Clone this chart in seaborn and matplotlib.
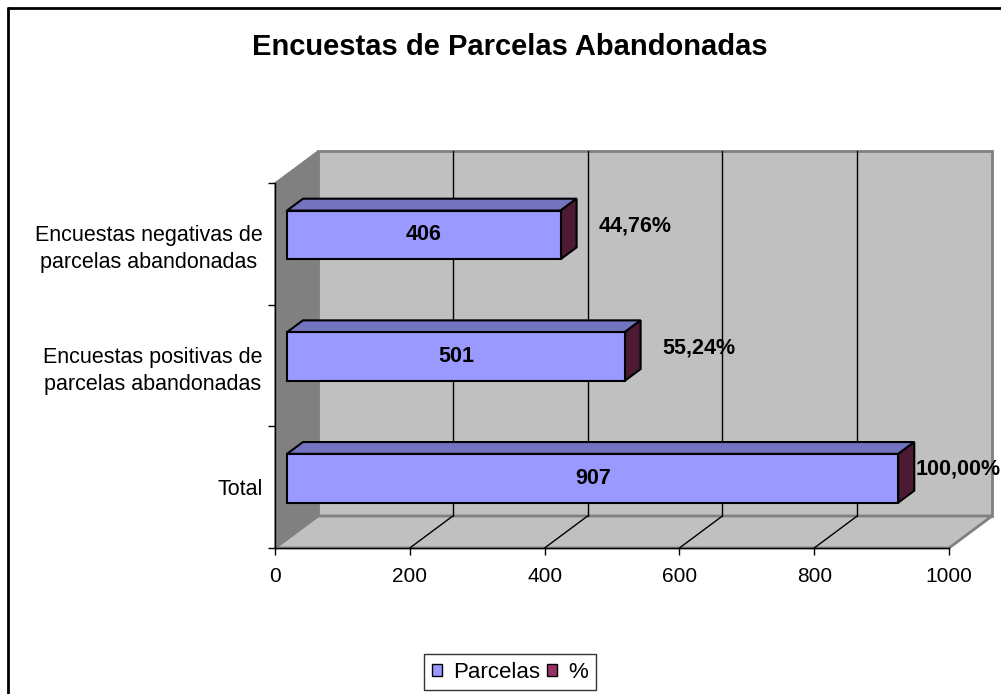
import matplotlib
matplotlib.use("Agg")
import matplotlib.pyplot as plt
import seaborn as sns
import pandas as pd
from matplotlib.patches import Polygon, Patch
from matplotlib.lines import Line2D
from matplotlib.transforms import IdentityTransform, ScaledTranslation

# Data
categorias = ["Encuestas negativas de\nparcelas abandonadas",
              "Encuestas positivas de\nparcelas abandonadas",
              "Total"]
parcelas = [406, 501, 907]
porcentajes = ["44,76%", "55,24%", "100,00%"]
ticks_x = [0, 200, 400, 600, 800, 1000]

W, H, DPI = 1001, 694, 100
DX, DY = 43, 32          # depth of the 3D box, in pixels
D_FRONT, D_BACK = 0.28, 0.65  # depth of the bars inside the box

sns.set_theme(style="white")
plt.rcParams["font.family"] = ["Liberation Sans", "DejaVu Sans"]
plt.rcParams["text.color"] = "black"
plt.rcParams["xtick.color"] = "black"
plt.rcParams["ytick.color"] = "black"
plt.rcParams["axes.labelcolor"] = "black"

fig = plt.figure(figsize=(W / DPI, H / DPI), dpi=DPI)
ax = fig.add_axes([275 / W, 1 - 548 / H, (949 - 275) / W, (548 - 183) / H])
ax.patch.set_visible(False)

df = pd.DataFrame({"categoria": categorias, "parcelas": parcelas})
sns.barplot(data=df, x="parcelas", y="categoria", order=categorias,
            color="#9999FF", saturation=1, width=0.4,
            edgecolor="black", linewidth=1.5, ax=ax, zorder=3)

ax.set_xlim(0, 1000)
ax.set_ylim(2.5, -0.5)


def P(x, y, d):
    # display coords of a data point pushed back by depth d (0..1)
    px, py = ax.transData.transform((x, y))
    return (px + DX * d, py + DY * d)


def poly(pts, **kw):
    p = Polygon(pts, closed=True, transform=IdentityTransform(),
                clip_on=False, **kw)
    ax.add_patch(p)
    return p


def line(p0, p1, **kw):
    ln = Line2D([p0[0], p1[0]], [p0[1], p1[1]], transform=IdentityTransform(),
                clip_on=False, **kw)
    ax.add_line(ln)


# walls and floor
y_top, y_bot = -0.5, 2.5
poly([P(0, y_top, 1), P(1000, y_top, 1), P(1000, y_bot, 1), P(0, y_bot, 1)],
     facecolor="#C0C0C0", edgecolor="#808080", lw=2, zorder=0.1)
poly([P(0, y_top, 0), P(0, y_top, 1), P(0, y_bot, 1), P(0, y_bot, 0)],
     facecolor="#808080", edgecolor="#808080", lw=1, zorder=0.2)
poly([P(0, y_bot, 0), P(1000, y_bot, 0), P(1000, y_bot, 1), P(0, y_bot, 1)],
     facecolor="#C0C0C0", edgecolor="#808080", lw=2, zorder=0.2)

for t in ticks_x[1:-1]:
    line(P(t, y_bot, 1), P(t, y_top, 1), color="black", lw=1, zorder=0.3)
    line(P(t, y_bot, 0), P(t, y_bot, 1), color="black", lw=1, zorder=0.3)

# bars: shift front face into depth, add top and side faces
shift = ScaledTranslation(DX * D_FRONT / DPI, DY * D_FRONT / DPI,
                          fig.dpi_scale_trans)
for bar in ax.patches[:]:
    if bar.get_zorder() != 3:
        continue
    x0, y0 = bar.get_x(), bar.get_y()
    x1, y1 = x0 + bar.get_width(), y0 + bar.get_height()
    ya, yb = min(y0, y1), max(y0, y1)   # ya is visually the top (inverted axis)
    bar.set_transform(ax.transData + shift)
    bar.set_clip_on(False)
    poly([P(x0, ya, D_FRONT), P(x1, ya, D_FRONT), P(x1, ya, D_BACK), P(x0, ya, D_BACK)],
         facecolor="#7373BF", edgecolor="black", lw=1.5, zorder=2.9)
    poly([P(x1, ya, D_FRONT), P(x1, yb, D_FRONT), P(x1, yb, D_BACK), P(x1, ya, D_BACK)],
         facecolor="#4D1A33", edgecolor="black", lw=1.5, zorder=2.9)

# value labels
for i, v in enumerate(parcelas):
    cx, cy = P(v / 2, i, D_FRONT)
    ax.text(cx, cy, str(v), transform=IdentityTransform(), ha="center",
            va="center", fontsize=15.5, fontweight="bold", zorder=5)
    ex, ey = P(v, i, D_FRONT)
    lx, ly = ex + 74, ey + 9
    if lx + 42 > W:
        ax.text(W, ly, porcentajes[i], transform=IdentityTransform(), ha="right",
                va="center", fontsize=15.5, fontweight="bold", zorder=5, clip_on=False)
    else:
        ax.text(lx, ly, porcentajes[i], transform=IdentityTransform(), ha="center",
                va="center", fontsize=15.5, fontweight="bold", zorder=5, clip_on=False)

# axes styling
for s in ["top", "right"]:
    ax.spines[s].set_visible(False)
for s in ["left", "bottom"]:
    ax.spines[s].set_color("black")
    ax.spines[s].set_linewidth(1)
ax.set_xticks(ticks_x)
ax.set_xticklabels([str(t) for t in ticks_x], fontsize=15)
ax.set_yticks(range(len(categorias)))
ax.set_yticklabels(categorias, fontsize=15.5, multialignment="center",
                   linespacing=1.35)
ax.set_yticks([-0.5, 0.5, 1.5, 2.5], minor=True)
ax.tick_params(axis="x", which="major", direction="out", length=5, width=1,
               color="black", pad=9, bottom=True)
ax.tick_params(axis="y", which="major", length=0, pad=9, left=True)
ax.tick_params(axis="y", which="minor", direction="out", length=5, width=1,
               color="black", left=True)
ax.set_xlabel("")
ax.set_ylabel("")

fig.text(510 / W, 1 - 55 / H, "Encuestas de Parcelas Abandonadas",
         ha="center", va="baseline", fontsize=21, fontweight="bold")

handles = [Patch(facecolor="#9999FF", edgecolor="black", label="Parcelas"),
           Patch(facecolor="#993366", edgecolor="black", label="%")]
leg = fig.legend(handles=handles, loc="center", ncol=2,
                 bbox_to_anchor=(510 / W, 1 - 672 / H), fontsize=16,
                 frameon=True, fancybox=False, edgecolor="black",
                 handlelength=0.45, handleheight=0.45, handletextpad=0.5,
                 columnspacing=0.3, borderpad=0.35, borderaxespad=0)
leg.get_frame().set_linewidth(1)

# chart area border (only left and top fall inside the picture)
fig.add_artist(Line2D([8 / W, 8 / W], [0, 1 - 8 / H], color="black", lw=2,
                      transform=fig.transFigure))
fig.add_artist(Line2D([8 / W, 1], [1 - 8 / H, 1 - 8 / H], color="black", lw=2,
                      transform=fig.transFigure))

fig.savefig("out.png", dpi=DPI)
